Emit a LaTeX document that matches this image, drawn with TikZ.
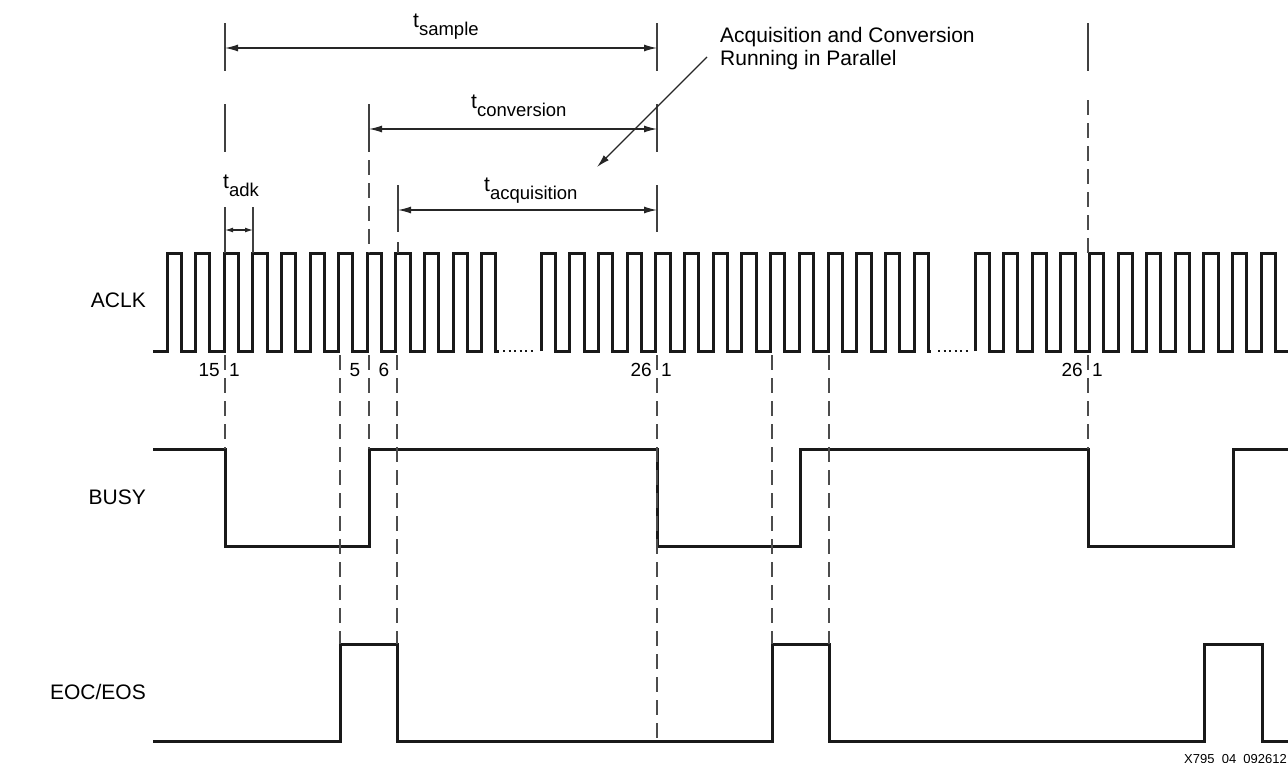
\documentclass[tikz,border=0pt]{standalone}
\usepackage{fontspec}
\setmainfont{Liberation Sans}
\usetikzlibrary{arrows.meta}

\newcommand{\tsig}[1]{t\raisebox{-8pt}{\fontsize{18.5}{18.5}\selectfont #1}}

\begin{document}
\begin{tikzpicture}[x=1pt, y=-1pt,
    wave/.style = {line width=3pt, black!90},
    tickline/.style = {line width=1.3pt, black!75},
    guide/.style = {line width=1.2pt, black!70, dash pattern=on 15pt off 8pt},
    dim/.style = {line width=1.2pt, black!85,
      {Latex[length=13pt,width=7pt]}-{Latex[length=13pt,width=7pt]}},
    sig/.style = {font=\fontsize{21}{21}\selectfont, inner sep=0pt, anchor=east},
    num/.style = {font=\fontsize{19}{19}\selectfont, inner sep=0pt},
    lbl/.style = {font=\fontsize{21}{21}\selectfont, inner sep=0pt, anchor=base west}]
  \useasboundingbox (0,0) rectangle (1288,763);

  % signal names
  \node[sig] (aclk) at (146,300) {ACLK};
  \node[sig] (busy) at (146,497) {BUSY};
  \node[sig] (eoc) at (146,692) {EOC/EOS};

  % ACLK
  \draw[wave] (153,351) foreach \k in {0,...,11} {
      -- ({167+28.6*\k},351) -- ++(0,-98) -- ++(14.3,0) -- ++(0,98)} -- ++(3,0);
  \draw[wave] (541,351) foreach \k in {0,...,13} {
      -- ({541+28.7*\k},351) -- ++(0,-98) -- ++(14.3,0) -- ++(0,98)} -- ++(3,0);
  \draw[wave] (975,351) foreach \k in {0,...,10} {
      -- ({975+28.6*\k},351) -- ++(0,-98) -- ++(14.3,0) -- ++(0,98)} -- (1288,351);
  \draw[line width=2pt, black!90, dash pattern=on 2pt off 3.5pt] (503,351) -- (535,351);
  \draw[line width=2pt, black!90, dash pattern=on 2pt off 3.5pt] (938,351) -- (970,351);

  % BUSY and EOC/EOS
  \draw[wave] (153,449) -| (225,546) -| (369,449) -| (657,546) -| (800,449)
    -| (1088,546) -| (1233,449) -- (1288,449);
  \draw[wave] (153,741) -| (340,644) -| (397,741) -| (772,644) -| (829,741)
    -| (1204,644) -| (1262,741) -- (1288,741);

  % guides below the clock
  \foreach \x/\y in {225/449, 340/644, 369/449, 397/644, 657/741,
                     772/644, 829/644, 1088/449}
    \draw[guide] (\x,355) -- (\x,\y);

  % clock counts
  \node[num, anchor=east] (c15) at (220,370) {15};
  \node[num, anchor=west] (c1a) at (229,370) {1};
  \node[num] (c5) at (355,370) {5};
  \node[num] (c6) at (384,370) {6};
  \node[num, anchor=east] (c26a) at (652,370) {26};
  \node[num, anchor=west] (c1b) at (661,370) {1};
  \node[num, anchor=east] (c26b) at (1083,370) {26};
  \node[num, anchor=west] (c1c) at (1092,370) {1};

  % ticks above the clock
  \foreach \x in {225,657,1088} \draw[tickline] (\x,23) -- (\x,71);
  \foreach \x in {225,369,657} \draw[tickline] (\x,104) -- (\x,152);
  \foreach \x in {398,657} \draw[tickline] (\x,185) -- (\x,232);
  \foreach \x in {225,253} \draw[tickline] (\x,207) -- (\x,253);
  \draw[guide] (369,160) -- (369,253);
  \draw[tickline] (398,242) -- (398,253);
  \draw[guide] (1088,100) -- (1088,253);

  % intervals
  \coordinate (smpA) at (225,48);   \coordinate (smpB) at (657,48);
  \coordinate (cnvA) at (369,129);  \coordinate (cnvB) at (657,129);
  \coordinate (acqA) at (398,210);  \coordinate (acqB) at (657,210);
  \coordinate (adkA) at (225,230);  \coordinate (adkB) at (253,230);
  \draw[dim] (smpA) -- (smpB);
  \draw[dim] (cnvA) -- (cnvB);
  \draw[dim] (acqA) -- (acqB);
  \draw[line width=1.2pt, black!85,
    {Latex[length=8pt,width=5pt]}-{Latex[length=8pt,width=5pt]}] (adkA) -- (adkB);
  \node[lbl] (tsmp) at (413,27) {\tsig{sample}};
  \node[lbl] (tcnv) at (471,108) {\tsig{conversion}};
  \node[lbl] (tacq) at (484,191) {\tsig{acquisition}};
  \node[lbl] (tadk) at (223,188) {\tsig{adk}};

  % note
  \node[lbl] (note1) at (720,42) {Acquisition and Conversion};
  \node[lbl] (note2) at (720,65) {Running in Parallel};
  \coordinate (noteA) at (707,57);
  \coordinate (noteB) at (597,167);
  \draw[line width=1.2pt, black!85, -{Latex[length=13pt,width=7pt]}] (noteA) -- (noteB);

  \node[font=\fontsize{13}{13}\selectfont, inner sep=0pt, anchor=base west]
    (fig) at (1184,763) {X795\_04\_092612};
\end{tikzpicture}
\end{document}
